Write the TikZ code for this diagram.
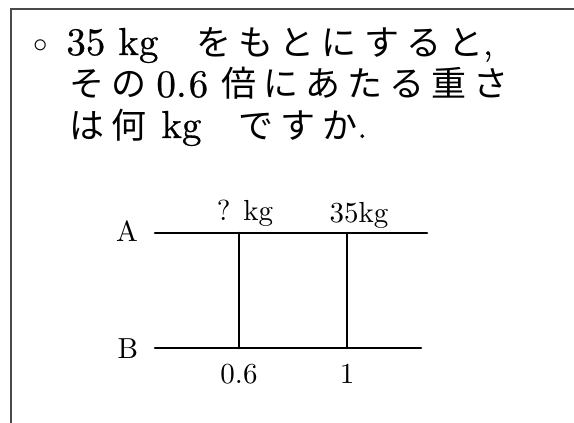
\documentclass[tikz,border=0pt]{standalone}
\usepackage{fontspec}
\newfontfamily\qfont{lmroman10-regular.otf}[FakeBold=0.6]
\newfontfamily\lfont{lmroman10-regular.otf}
\newfontfamily\jfont{Noto Sans CJK JP}[LetterSpace=20]
\definecolor{framegray}{HTML}{4A4A4A}

\tikzset{
  txt/.style={inner sep=0pt,anchor=base west,font=\fontsize{19.5}{23}\qfont},
  jtxt/.style={inner sep=0pt,anchor=base west,font=\fontsize{17.5}{21}\jfont},
  lab/.style={inner sep=0pt,font=\fontsize{14.5}{17}\lfont},
  bar/.style={line width=1.3pt},
}

\begin{document}
\begin{tikzpicture}[x=0.5pt,y=-0.5pt,line cap=round]
\useasboundingbox (0,0) rectangle (574,423);
% frame
\draw[framegray,line width=1pt,line cap=butt] (10.5,423) -- (10.5,8.5) -- (574,8.5);

% question text
\node[inner sep=0pt,anchor=base,font=\fontsize{13.5}{16}\selectfont] (dot) at (41,52.5) {$\circ$};
\node[txt] (l1a) at (66,55) {35 kg};
\node[jtxt] (l1b) at (196,55) {をもとにすると{\qfont ,}};
\node[jtxt] (l2a) at (69,97) {その};
\node[txt] (l2b) at (156,97) {0.{\kern1pt}6};
\node[jtxt] (l2c) at (221,97) {倍にあたる重さ};
\node[jtxt] (l3a) at (69,138) {は何};
\node[txt] (l3b) at (161,138) {kg};
\node[jtxt] (l3c) at (238,138) {ですか{\qfont .}};

% diagram
\coordinate (a0) at (155,233);
\coordinate (a1) at (427,233);
\coordinate (b0) at (155,348);
\coordinate (b1) at (421,348);
\coordinate (p0) at (239,233);
\coordinate (p1) at (239,348);
\coordinate (q0) at (347,233);
\coordinate (q1) at (347,348);
\draw[bar] (a0) -- (a1);
\draw[bar] (b0) -- (b1);
\draw[bar] (p0) -- (p1);
\draw[bar] (q0) -- (q1);

\node[lab] (A) at (127,231) {A};
\node[lab] (B) at (128,349) {B};
\node[lab,anchor=base] (qkg) at (245,220) {? kg};
\node[lab,anchor=base] (tkg) at (359,222) {35kg};
\node[lab,anchor=base] (six) at (239,383) {0.6};
\node[lab,anchor=base] (one) at (347,383) {1};
\end{tikzpicture}
\end{document}
